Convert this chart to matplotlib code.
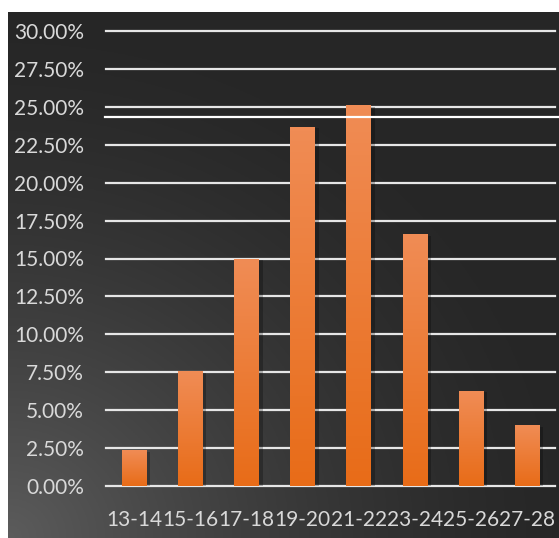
import numpy as np
import matplotlib
matplotlib.use('Agg')
import matplotlib.pyplot as plt
from matplotlib.lines import Line2D
import matplotlib.patheffects as pe
from matplotlib.ticker import PercentFormatter

plt.rcParams['font.family'] = ['Lato', 'DejaVu Sans']

# ---------- data ----------
categories = ['13-14', '15-16', '17-18', '19-20', '21-22', '23-24', '25-26', '27-28']
shares = [0.0231, 0.0754, 0.1496, 0.2367, 0.2510, 0.1657, 0.0626, 0.0396]
yticks = np.arange(0, 0.30001, 0.025)

W, H = 559, 538
fig = plt.figure(figsize=(W/100, H/100), dpi=100, facecolor='white')

# dark panel with a soft light patch bottom-left
bg = fig.add_axes([8/W, 0, 1 - 8/W, 1 - 12/H])
yy, xx = np.mgrid[0:1:300j, 0:1:300j]
d = np.sqrt((xx*1.0)**2 + ((1-yy)*1.05)**2)
val = 0.15 + 0.21*np.clip(1 - d/1.05, 0, 1)**1.5
img = np.dstack([val, val, val])
bg.imshow(img, extent=[0, 1, 0, 1], origin='upper', aspect='auto')
bg.set_axis_off()

ax = fig.add_axes([106/W, (H-486)/H, (555-106)/W, (486-31)/H])
ax.patch.set_alpha(0)
x = np.arange(len(categories))
bars = ax.bar(x, shares, width=0.43, color='#ee7a2e', zorder=3,
              path_effects=[pe.SimplePatchShadow(offset=(3, -1), shadow_rgbFace='black', alpha=0.25),
                            pe.Normal()])

# vertical gradient on each bar
grad = np.linspace(0, 1, 100).reshape(-1, 1)
top_c = np.array([0xf0, 0x8c, 0x55]) / 255
bot_c = np.array([0xe8, 0x6c, 0x18]) / 255
gimg = top_c*(1-grad)[..., None] + bot_c*grad[..., None]
for b in bars:
    ax.imshow(gimg, extent=[b.get_x(), b.get_x()+b.get_width(), 0, b.get_height()],
              origin='upper', aspect='auto', zorder=4)

ax.set_xlim(-0.5, len(categories) - 0.5)
ax.set_ylim(0, 0.30)
ax.set_yticks(yticks)
ax.yaxis.set_major_formatter(PercentFormatter(1.0, decimals=2))
ax.set_xticks(x)
ax.set_xticklabels(categories)
for yv in yticks:
    ax.axhline(yv, color='#e6e6e6', lw=1.6, zorder=1, clip_on=False)
ax.tick_params(length=0, colors='#d9d9d9', labelsize=15)
ax.tick_params(axis='y', pad=16)
ax.tick_params(axis='x', pad=17)
for s in ax.spines.values():
    s.set_visible(False)

# stray white line across the panel
fig.add_artist(Line2D([105/W, 1], [(H-116.7)/H]*2, color='white', lw=1.6))

fig.savefig('out.png', dpi=100, facecolor='white')
